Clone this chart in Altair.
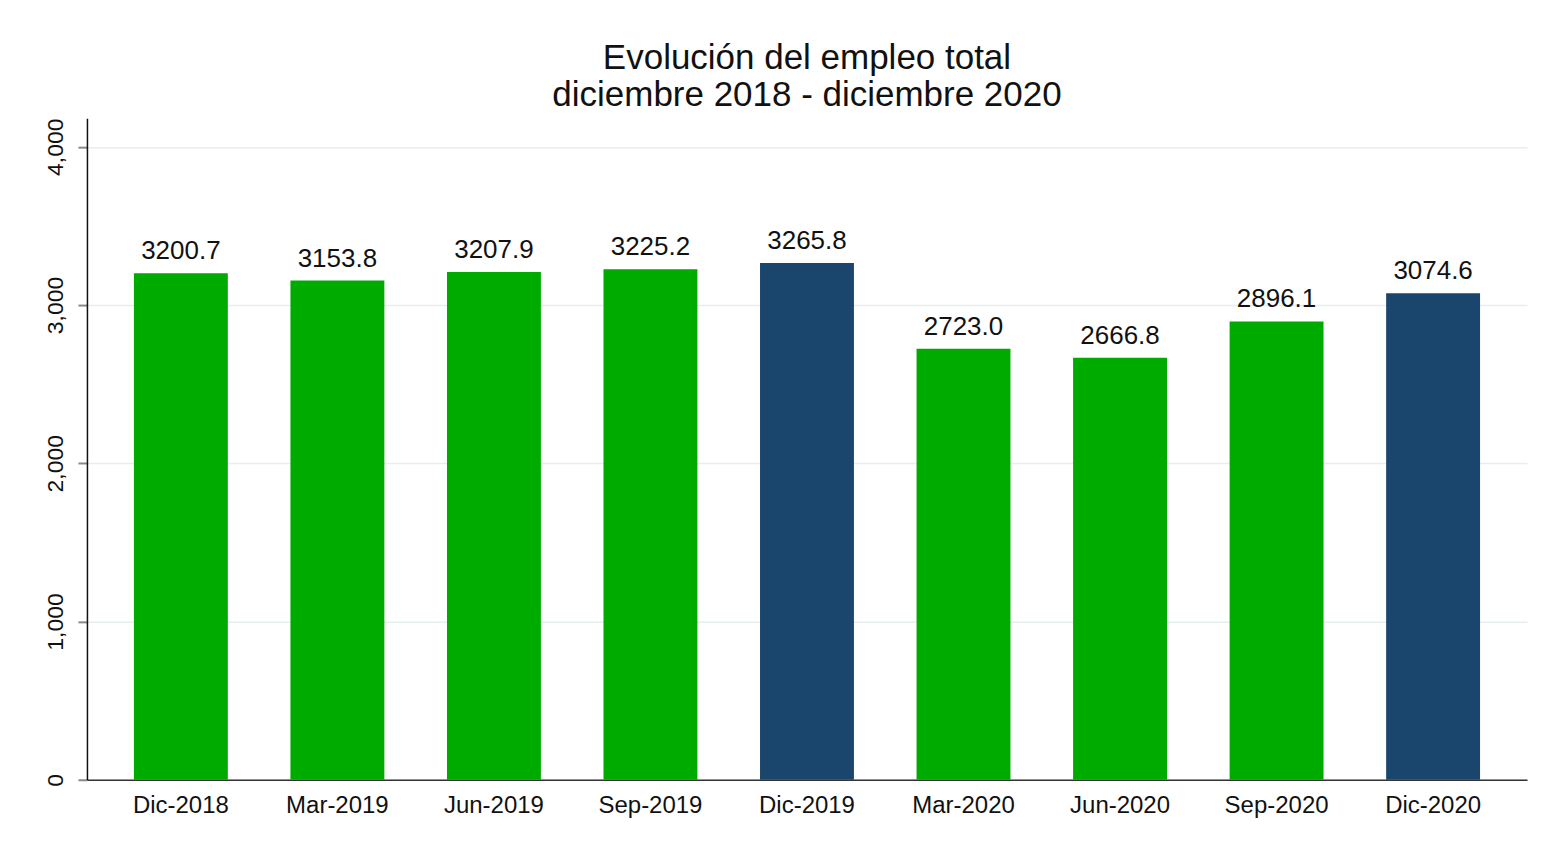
import altair as alt
import pandas as pd

periods = ["Dic-2018", "Mar-2019", "Jun-2019", "Sep-2019", "Dic-2019",
           "Mar-2020", "Jun-2020", "Sep-2020", "Dic-2020"]
values = [3200.7, 3153.8, 3207.9, 3225.2, 3265.8, 2723.0, 2666.8, 2896.1, 3074.6]
kind = ["trim", "trim", "trim", "trim", "dic", "trim", "trim", "trim", "dic"]
y_ticks = [0, 1000, 2000, 3000, 4000]

df = pd.DataFrame({"periodo": periods, "empleo": values, "tipo": kind})

FONT = "Liberation Sans"

x = alt.X("periodo:N", sort=periods, title=None,
          scale=alt.Scale(paddingInner=0.4, paddingOuter=0.3),
          axis=alt.Axis(labelAngle=0, ticks=False, labelFontSize=24,
                        labelColor="#111111", labelPadding=14, domainColor="#333333",
                        domainWidth=1.5, labelFont=FONT, grid=False))
y = alt.Y("empleo:Q", title=None,
          scale=alt.Scale(domain=[0, 4180], nice=False),
          axis=alt.Axis(values=y_ticks, format=",.0f", labelAngle=-90, labelFontSize=23,
                        labelColor="#111111", labelFont=FONT, tickSize=9,
                        tickColor="#888888", tickWidth=2, labelPadding=10,
                        domainColor="#111111", domainWidth=1.5, grid=True,
                        gridColor="#e6eef0", gridWidth=1.5,
                        labelAlign="center", labelBaseline="bottom"))

bars = alt.Chart(df).mark_bar().encode(
    x=x, y=y,
    color=alt.Color("tipo:N", scale=alt.Scale(domain=["trim", "dic"],
                                              range=["#00ab00", "#1a466d"]),
                    legend=None),
)

labels = alt.Chart(df).mark_text(baseline="bottom", dy=-9, fontSize=26,
                                 font=FONT, color="#111111").encode(
    x=alt.X("periodo:N", sort=periods),
    y="empleo:Q",
    text=alt.Text("empleo:Q", format=".1f"),
)

chart = alt.layer(bars, labels).properties(
    width=1441, height=662,
    background="white",
    autosize=alt.AutoSizeParams(type="none"),
    padding={"left": 79, "top": 110, "right": 20, "bottom": 40},
    title=alt.TitleParams(["Evolución del empleo total", "diciembre 2018 - diciembre 2020"],
                          fontSize=35, font=FONT, fontWeight="normal", color="#111111",
                          anchor="middle", offset=5, lineHeight=37),
).configure_view(stroke=None)

chart.save("out.html", embed_options={"renderer": "svg", "actions": False})
